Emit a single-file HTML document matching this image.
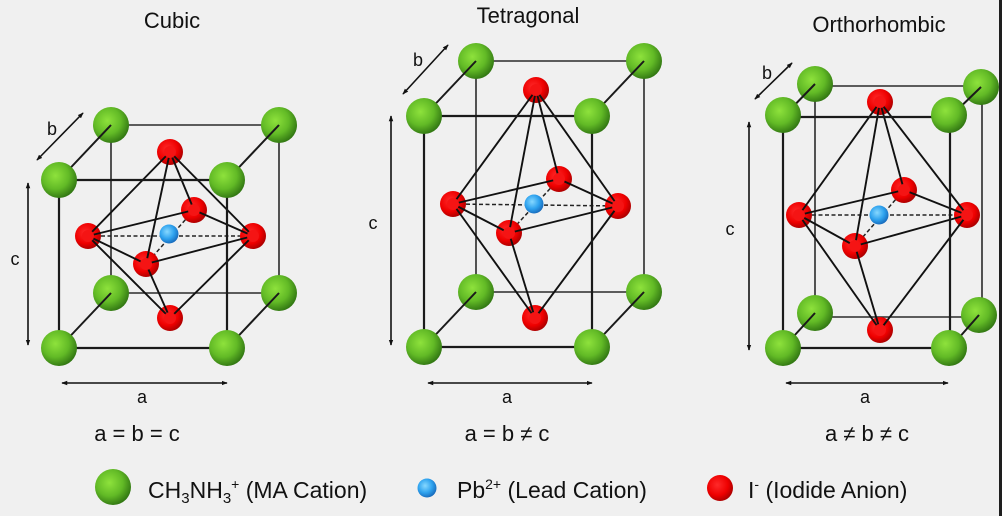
<!DOCTYPE html>
<html><head><meta charset="utf-8"><style>
html,body{margin:0;padding:0;background:#f0f0f0;}
svg{display:block;}
text{font-family:"Liberation Sans",Arial,sans-serif;fill:#111;}
</style></head><body>
<svg width="1002" height="516" viewBox="0 0 1002 516" xmlns="http://www.w3.org/2000/svg">
<defs>
<radialGradient id="gg" cx="0.4" cy="0.38" r="0.68">
<stop offset="0" stop-color="#8ee23c"/><stop offset="0.55" stop-color="#62ba26"/><stop offset="1" stop-color="#2b6e10"/>
</radialGradient>
<radialGradient id="rg" cx="0.4" cy="0.38" r="0.68">
<stop offset="0" stop-color="#ff2a2a"/><stop offset="0.6" stop-color="#ee0000"/><stop offset="1" stop-color="#a00000"/>
</radialGradient>
<radialGradient id="bg" cx="0.4" cy="0.38" r="0.68">
<stop offset="0" stop-color="#86d8ff"/><stop offset="0.55" stop-color="#2ea2ee"/><stop offset="1" stop-color="#1563b5"/>
</radialGradient>
<marker id="ah" viewBox="0 0 8 8" refX="7" refY="4" markerWidth="6" markerHeight="6" markerUnits="userSpaceOnUse" orient="auto-start-reverse">
<path d="M0,1 L8,4 L0,7 z" fill="#111"/>
</marker>
</defs>
<rect x="0" y="0" width="1002" height="516" fill="#f0f0f0"/>
<rect x="999" y="0" width="3" height="516" fill="#1e1e1e"/>

<!-- titles -->
<text x="172" y="28" font-size="22" text-anchor="middle">Cubic</text>
<text x="528" y="23" font-size="22" text-anchor="middle">Tetragonal</text>
<text x="879" y="32" font-size="22" text-anchor="middle">Orthorhombic</text>

<!-- ================= CUBIC ================= -->
<g stroke="#2a2a2a" stroke-width="1.6" fill="none">
<polygon points="111,125 279,125 279,293 111,293"/>
</g>
<circle cx="111" cy="125" r="18" fill="url(#gg)"/>
<circle cx="279" cy="125" r="18" fill="url(#gg)"/>
<circle cx="111" cy="293" r="18" fill="url(#gg)"/>
<circle cx="279" cy="293" r="18" fill="url(#gg)"/>
<g stroke="#1a1a1a" stroke-width="2" fill="none">
<line x1="59" y1="180" x2="111" y2="125"/>
<line x1="227" y1="180" x2="279" y2="125"/>
<line x1="59" y1="348" x2="111" y2="293"/>
<line x1="227" y1="348" x2="279" y2="293"/>
</g>
<g stroke="#222" stroke-width="1.5" stroke-dasharray="4 2.5">
<line x1="88" y1="236" x2="253" y2="236"/>
<line x1="194" y1="210" x2="146" y2="264"/>
</g>
<circle cx="169" cy="234" r="9.5" fill="url(#bg)"/>
<circle cx="194" cy="210" r="13" fill="url(#rg)"/>
<circle cx="170" cy="152" r="13" fill="url(#rg)"/>
<circle cx="88" cy="236" r="13" fill="url(#rg)"/>
<circle cx="253" cy="236" r="13" fill="url(#rg)"/>
<circle cx="170" cy="318" r="13" fill="url(#rg)"/>
<circle cx="146" cy="264" r="13" fill="url(#rg)"/>
<g stroke="#111" stroke-width="1.9" fill="none">
<line x1="170" y1="152" x2="88" y2="236"/>
<line x1="170" y1="152" x2="253" y2="236"/>
<line x1="170" y1="152" x2="194" y2="210"/>
<line x1="170" y1="152" x2="146" y2="264"/>
<line x1="170" y1="318" x2="88" y2="236"/>
<line x1="170" y1="318" x2="253" y2="236"/>
<line x1="170" y1="318" x2="146" y2="264"/>
<line x1="88" y1="236" x2="194" y2="210"/>
<line x1="194" y1="210" x2="253" y2="236"/>
<line x1="88" y1="236" x2="146" y2="264"/>
<line x1="146" y1="264" x2="253" y2="236"/>
</g>
<g fill="#f51414">
<circle cx="194" cy="210" r="6"/><circle cx="170" cy="152" r="6"/><circle cx="88" cy="236" r="6"/>
<circle cx="253" cy="236" r="6"/><circle cx="170" cy="318" r="6"/><circle cx="146" cy="264" r="6"/>
</g>
<g stroke="#1a1a1a" stroke-width="2.2" fill="none">
<polygon points="59,180 227,180 227,348 59,348"/>
</g>
<circle cx="59" cy="180" r="18" fill="url(#gg)"/>
<circle cx="227" cy="180" r="18" fill="url(#gg)"/>
<circle cx="59" cy="348" r="18" fill="url(#gg)"/>
<circle cx="227" cy="348" r="18" fill="url(#gg)"/>
<g stroke="#111" stroke-width="1.6">
<line x1="37" y1="160" x2="83" y2="113" marker-start="url(#ah)" marker-end="url(#ah)"/>
<line x1="28" y1="183" x2="28" y2="345" marker-start="url(#ah)" marker-end="url(#ah)"/>
<line x1="62" y1="383" x2="227" y2="383" marker-start="url(#ah)" marker-end="url(#ah)"/>
</g>
<text x="52" y="135" font-size="18" text-anchor="middle">b</text>
<text x="15" y="265" font-size="18" text-anchor="middle">c</text>
<text x="142" y="403" font-size="18" text-anchor="middle">a</text>
<text x="137" y="441" font-size="22" text-anchor="middle">a = b = c</text>

<!-- ================= TETRAGONAL ================= -->
<g stroke="#2a2a2a" stroke-width="1.6" fill="none">
<polygon points="476,61 644,61 644,292 476,292"/>
</g>
<circle cx="476" cy="61" r="18" fill="url(#gg)"/>
<circle cx="644" cy="61" r="18" fill="url(#gg)"/>
<circle cx="476" cy="292" r="18" fill="url(#gg)"/>
<circle cx="644" cy="292" r="18" fill="url(#gg)"/>
<g stroke="#1a1a1a" stroke-width="2" fill="none">
<line x1="424" y1="116" x2="476" y2="61"/>
<line x1="592" y1="116" x2="644" y2="61"/>
<line x1="424" y1="347" x2="476" y2="292"/>
<line x1="592" y1="347" x2="644" y2="292"/>
</g>
<g stroke="#222" stroke-width="1.5" stroke-dasharray="4 2.5">
<line x1="453" y1="204" x2="618" y2="206"/>
<line x1="559" y1="179" x2="509" y2="233"/>
</g>
<circle cx="534" cy="204" r="9.5" fill="url(#bg)"/>
<circle cx="559" cy="179" r="13" fill="url(#rg)"/>
<circle cx="536" cy="90" r="13" fill="url(#rg)"/>
<circle cx="453" cy="204" r="13" fill="url(#rg)"/>
<circle cx="618" cy="206" r="13" fill="url(#rg)"/>
<circle cx="535" cy="318" r="13" fill="url(#rg)"/>
<circle cx="509" cy="233" r="13" fill="url(#rg)"/>
<g stroke="#111" stroke-width="1.9" fill="none">
<line x1="536" y1="90" x2="453" y2="204"/>
<line x1="536" y1="90" x2="618" y2="206"/>
<line x1="536" y1="90" x2="559" y2="179"/>
<line x1="536" y1="90" x2="509" y2="233"/>
<line x1="535" y1="318" x2="453" y2="204"/>
<line x1="535" y1="318" x2="618" y2="206"/>
<line x1="535" y1="318" x2="509" y2="233"/>
<line x1="453" y1="204" x2="559" y2="179"/>
<line x1="559" y1="179" x2="618" y2="206"/>
<line x1="453" y1="204" x2="509" y2="233"/>
<line x1="509" y1="233" x2="618" y2="206"/>
</g>
<g fill="#f51414">
<circle cx="559" cy="179" r="6"/><circle cx="536" cy="90" r="6"/><circle cx="453" cy="204" r="6"/>
<circle cx="618" cy="206" r="6"/><circle cx="535" cy="318" r="6"/><circle cx="509" cy="233" r="6"/>
</g>
<g stroke="#1a1a1a" stroke-width="2.2" fill="none">
<polygon points="424,116 592,116 592,347 424,347"/>
</g>
<circle cx="424" cy="116" r="18" fill="url(#gg)"/>
<circle cx="592" cy="116" r="18" fill="url(#gg)"/>
<circle cx="424" cy="347" r="18" fill="url(#gg)"/>
<circle cx="592" cy="347" r="18" fill="url(#gg)"/>
<g stroke="#111" stroke-width="1.6">
<line x1="403" y1="94" x2="448" y2="45" marker-start="url(#ah)" marker-end="url(#ah)"/>
<line x1="391" y1="116" x2="391" y2="345" marker-start="url(#ah)" marker-end="url(#ah)"/>
<line x1="428" y1="383" x2="592" y2="383" marker-start="url(#ah)" marker-end="url(#ah)"/>
</g>
<text x="418" y="66" font-size="18" text-anchor="middle">b</text>
<text x="373" y="229" font-size="18" text-anchor="middle">c</text>
<text x="507" y="403" font-size="18" text-anchor="middle">a</text>
<text x="507" y="441" font-size="22" text-anchor="middle">a = b ≠ c</text>

<!-- ================= ORTHORHOMBIC ================= -->
<g stroke="#2a2a2a" stroke-width="1.6" fill="none">
<polygon points="815,86 982,86 982,317 815,317"/>
</g>
<circle cx="815" cy="84" r="18" fill="url(#gg)"/>
<circle cx="981" cy="87" r="18" fill="url(#gg)"/>
<circle cx="815" cy="313" r="18" fill="url(#gg)"/>
<circle cx="979" cy="315" r="18" fill="url(#gg)"/>
<g stroke="#1a1a1a" stroke-width="2" fill="none">
<line x1="783" y1="117" x2="815" y2="84"/>
<line x1="950" y1="117" x2="981" y2="87"/>
<line x1="783" y1="348" x2="815" y2="313"/>
<line x1="950" y1="348" x2="979" y2="315"/>
</g>
<g stroke="#222" stroke-width="1.5" stroke-dasharray="4 2.5">
<line x1="799" y1="215" x2="967" y2="215"/>
<line x1="904" y1="190" x2="855" y2="246"/>
</g>
<circle cx="879" cy="215" r="9.5" fill="url(#bg)"/>
<circle cx="904" cy="190" r="13" fill="url(#rg)"/>
<circle cx="880" cy="102" r="13" fill="url(#rg)"/>
<circle cx="799" cy="215" r="13" fill="url(#rg)"/>
<circle cx="967" cy="215" r="13" fill="url(#rg)"/>
<circle cx="880" cy="330" r="13" fill="url(#rg)"/>
<circle cx="855" cy="246" r="13" fill="url(#rg)"/>
<g stroke="#111" stroke-width="1.9" fill="none">
<line x1="880" y1="102" x2="799" y2="215"/>
<line x1="880" y1="102" x2="967" y2="215"/>
<line x1="880" y1="102" x2="904" y2="190"/>
<line x1="880" y1="102" x2="855" y2="246"/>
<line x1="880" y1="330" x2="799" y2="215"/>
<line x1="880" y1="330" x2="967" y2="215"/>
<line x1="880" y1="330" x2="855" y2="246"/>
<line x1="799" y1="215" x2="904" y2="190"/>
<line x1="904" y1="190" x2="967" y2="215"/>
<line x1="799" y1="215" x2="855" y2="246"/>
<line x1="855" y1="246" x2="967" y2="215"/>
</g>
<g fill="#f51414">
<circle cx="904" cy="190" r="6"/><circle cx="880" cy="102" r="6"/><circle cx="799" cy="215" r="6"/>
<circle cx="967" cy="215" r="6"/><circle cx="880" cy="330" r="6"/><circle cx="855" cy="246" r="6"/>
</g>
<g stroke="#1a1a1a" stroke-width="2.2" fill="none">
<polygon points="783,117 950,117 950,348 783,348"/>
</g>
<circle cx="783" cy="115" r="18" fill="url(#gg)"/>
<circle cx="949" cy="115" r="18" fill="url(#gg)"/>
<circle cx="783" cy="348" r="18" fill="url(#gg)"/>
<circle cx="949" cy="348" r="18" fill="url(#gg)"/>
<g stroke="#111" stroke-width="1.6">
<line x1="755" y1="99" x2="792" y2="63" marker-start="url(#ah)" marker-end="url(#ah)"/>
<line x1="749" y1="122" x2="749" y2="350" marker-start="url(#ah)" marker-end="url(#ah)"/>
<line x1="786" y1="383" x2="948" y2="383" marker-start="url(#ah)" marker-end="url(#ah)"/>
</g>
<text x="767" y="79" font-size="18" text-anchor="middle">b</text>
<text x="730" y="235" font-size="18" text-anchor="middle">c</text>
<text x="865" y="403" font-size="18" text-anchor="middle">a</text>
<text x="867" y="441" font-size="22" text-anchor="middle">a ≠ b ≠ c</text>

<!-- ================= LEGEND ================= -->
<circle cx="113" cy="487" r="18" fill="url(#gg)"/>
<text x="148" y="498" font-size="23">CH<tspan font-size="15" dy="5">3</tspan><tspan dy="-5">NH</tspan><tspan font-size="15" dy="5">3</tspan><tspan font-size="14" dy="-14">+</tspan><tspan dy="9"> (MA Cation)</tspan></text>
<circle cx="427" cy="488" r="9.5" fill="url(#bg)"/>
<text x="457" y="498" font-size="23">Pb<tspan font-size="14" dy="-9">2+</tspan><tspan dy="9"> (Lead Cation)</tspan></text>
<circle cx="720" cy="488" r="13" fill="url(#rg)"/>
<text x="748" y="498" font-size="23">I<tspan font-size="14" dy="-9">-</tspan><tspan dy="9"> (Iodide Anion)</tspan></text>
</svg>
</body></html>
